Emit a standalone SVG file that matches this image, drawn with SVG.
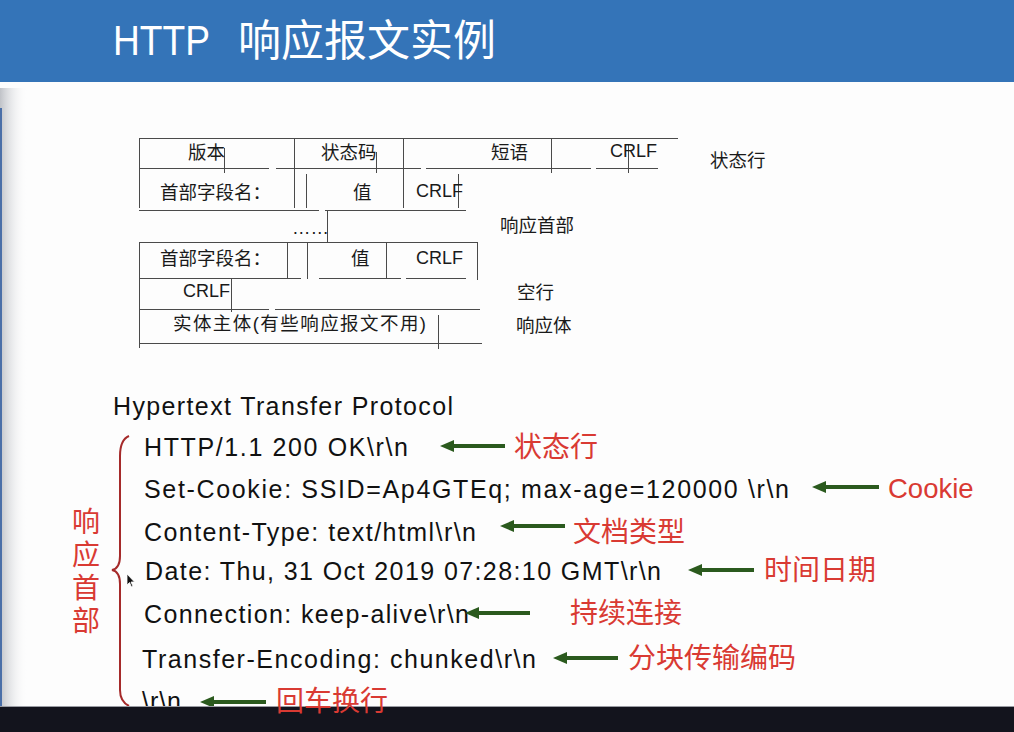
<svg xmlns="http://www.w3.org/2000/svg" width="1014" height="732" viewBox="0 0 1014 732">
  <defs>
    <linearGradient id="edgeShade" x1="0" y1="0" x2="1" y2="0">
      <stop offset="0" stop-color="#b9bcc2" stop-opacity="0.9"/>
      <stop offset="1" stop-color="#ffffff" stop-opacity="0"/>
    </linearGradient>
    <marker id="head" viewBox="0 0 14 12" refX="2" refY="6" markerWidth="14" markerHeight="12" markerUnits="userSpaceOnUse" orient="auto">
      <path d="M0,0 L14,6 L0,12 z" fill="#2b5a1e"/>
    </marker>
    <style>
      .grid { stroke: #4a4a4a; stroke-width: 1; fill: none; }
      .cell { font-family: 'Liberation Sans', 'Noto Sans CJK SC', sans-serif; font-size: 18.5px; fill: #1a1a1a; }
      .latin { font-family: 'Liberation Sans', Arial, sans-serif; font-size: 18px; fill: #1a1a1a; }
      .line { font-family: 'Liberation Sans', Arial, sans-serif; font-size: 25px; fill: #111; }
      .note { font-family: 'Noto Sans CJK SC', sans-serif; font-size: 28px; fill: #d93a33; }
      .note-latin { font-family: 'Liberation Sans', Arial, sans-serif; font-size: 27.5px; fill: #d93a33; }
      .arrow { stroke: #2b5a1e; stroke-width: 4; fill: none; marker-end: url(#head); }
    </style>
  </defs>

  <!-- slide background -->
  <rect x="0" y="0" width="1014" height="732" fill="#fdfdfd"/>
  <rect x="0" y="88" width="28" height="620" fill="url(#edgeShade)"/>
  <rect x="0" y="108" width="2" height="600" fill="#4a6fa8"/>

  <!-- title bar -->
  <g id="title">
    <rect x="0" y="0" width="1014" height="82" fill="#3474b8"/>
    <text x="113" y="55" font-family="'Liberation Sans', Arial, sans-serif" font-size="43" fill="#ffffff" textLength="97" lengthAdjust="spacingAndGlyphs">HTTP</text>
    <text x="238" y="56" font-family="'Noto Sans CJK SC', sans-serif" font-size="43" fill="#ffffff">响应报文实例</text>
  </g>

  <!-- response message format table -->
  <g id="format-table">
    <path class="grid" d="
      M139,138.5 H678
      M139,168.5 H269 M276,168.5 H421 M426,168.5 H591 M596,168.5 H658
      M139,210.5 H319 M325,210.5 H466
      M139,242.5 H478
      M139,278.5 H301 M319,278.5 H401 M406,278.5 H466
      M139,309.5 H269 M275,309.5 H480
      M139,343.5 H482
      M139.5,138 V208 M139.5,242 V348
      M294.5,138 V208 M403.5,138 V208 M551.5,138 V173
      M224.5,148 V173 M376.5,152 V173 M628.5,145 V173
      M306.5,174 V208 M458.5,174 V208
      M327.5,210 V242
      M287.5,242 V279 M307.5,242 V279 M386.5,242 V279 M477.5,242 V280
      M231.5,279 V312
      M438.5,315 V349"/>
    <g id="row-status">
      <text class="cell" x="188" y="159">版本</text>
      <text class="cell" x="321" y="159">状态码</text>
      <text class="cell" x="491" y="159">短语</text>
      <text class="latin" x="610" y="157">CRLF</text>
    </g>
    <g id="row-header-1">
      <text class="cell" x="160" y="199">首部字段名：</text>
      <text class="cell" x="353" y="199">值</text>
      <text class="latin" x="416" y="197">CRLF</text>
    </g>
    <text class="cell" x="292" y="234" font-size="17">……</text>
    <g id="row-header-n">
      <text class="cell" x="160" y="265">首部字段名：</text>
      <text class="cell" x="351" y="265">值</text>
      <text class="latin" x="416" y="264">CRLF</text>
    </g>
    <g id="row-blank">
      <text class="latin" x="183" y="297">CRLF</text>
    </g>
    <g id="row-body">
      <text class="cell" x="173" y="330" textLength="253">实体主体(有些响应报文不用)</text>
    </g>
    <g id="part-labels">
      <text class="cell" x="710" y="167">状态行</text>
      <text class="cell" x="500" y="232">响应首部</text>
      <text class="cell" x="517" y="299">空行</text>
      <text class="cell" x="516" y="332">响应体</text>
    </g>
  </g>

  <!-- captured response -->
  <text class="line" x="113" y="415" textLength="340">Hypertext Transfer Protocol</text>

  <g id="brace">
    <path d="M129,436 C122,439 120,446 120,456 L120,556 C120,565 117,569 112,570 C117,571 120,575 120,584 L120,690 C120,698 123,703 129,706" fill="none" stroke="#a52a2a" stroke-width="2"/>
    <text class="note" x="86" y="507" style="writing-mode: vertical-rl" letter-spacing="5">响应首部</text>
  </g>

  <g id="line-status"><text class="line" x="144" y="456" textLength="264">HTTP/1.1 200 OK\r\n</text></g>
  <g id="line-cookie"><text class="line" x="144" y="498" textLength="645">Set-Cookie: SSID=Ap4GTEq; max-age=120000 \r\n</text></g>
  <g id="line-type"><text class="line" x="144" y="541" textLength="332">Content-Type: text/html\r\n</text></g>
  <g id="line-date"><text class="line" x="145" y="580" textLength="516">Date: Thu, 31 Oct 2019 07:28:10 GMT\r\n</text></g>
  <g id="line-conn"><text class="line" x="144" y="623" textLength="325">Connection: keep-alive\r\n</text></g>
  <g id="line-encoding"><text class="line" x="142" y="668" textLength="394">Transfer-Encoding: chunked\r\n</text></g>
  <g id="line-end"><text class="line" x="142" y="710" textLength="39">\r\n</text></g>

  <!-- pointer arrows -->
  <g id="connectors">
    <path class="arrow" d="M505,446 H452"/>
    <path class="arrow" d="M879,487 H824"/>
    <path class="arrow" d="M565,526 H512"/>
    <path class="arrow" d="M754,570 H700"/>
    <path class="arrow" d="M530,613 H477"/>
    <path class="arrow" d="M618,658 H565"/>
    <path class="arrow" d="M266,702 H212"/>
  </g>

  <!-- player bar along the bottom edge -->
  <rect x="0" y="707" width="1014" height="25" fill="#13141d"/>
  <rect x="0" y="706" width="1014" height="1" fill="#9a9ca3"/>

  <g id="notes">
    <text class="note" x="514" y="457">状态行</text>
    <text class="note-latin" x="888" y="498">Cookie</text>
    <text class="note" x="573" y="542">文档类型</text>
    <text class="note" x="764" y="580">时间日期</text>
    <text class="note" x="570" y="623">持续连接</text>
    <text class="note" x="628" y="668">分块传输编码</text>
    <text class="note" x="276" y="711">回车换行</text>
  </g>

  <!-- mouse pointer -->
  <path d="M127,574 L127,585 L129.5,582.5 L131.5,587 L133,586.3 L131,582 L134.5,582 Z" fill="#111" stroke="#fff" stroke-width="0.8"/>
</svg>
